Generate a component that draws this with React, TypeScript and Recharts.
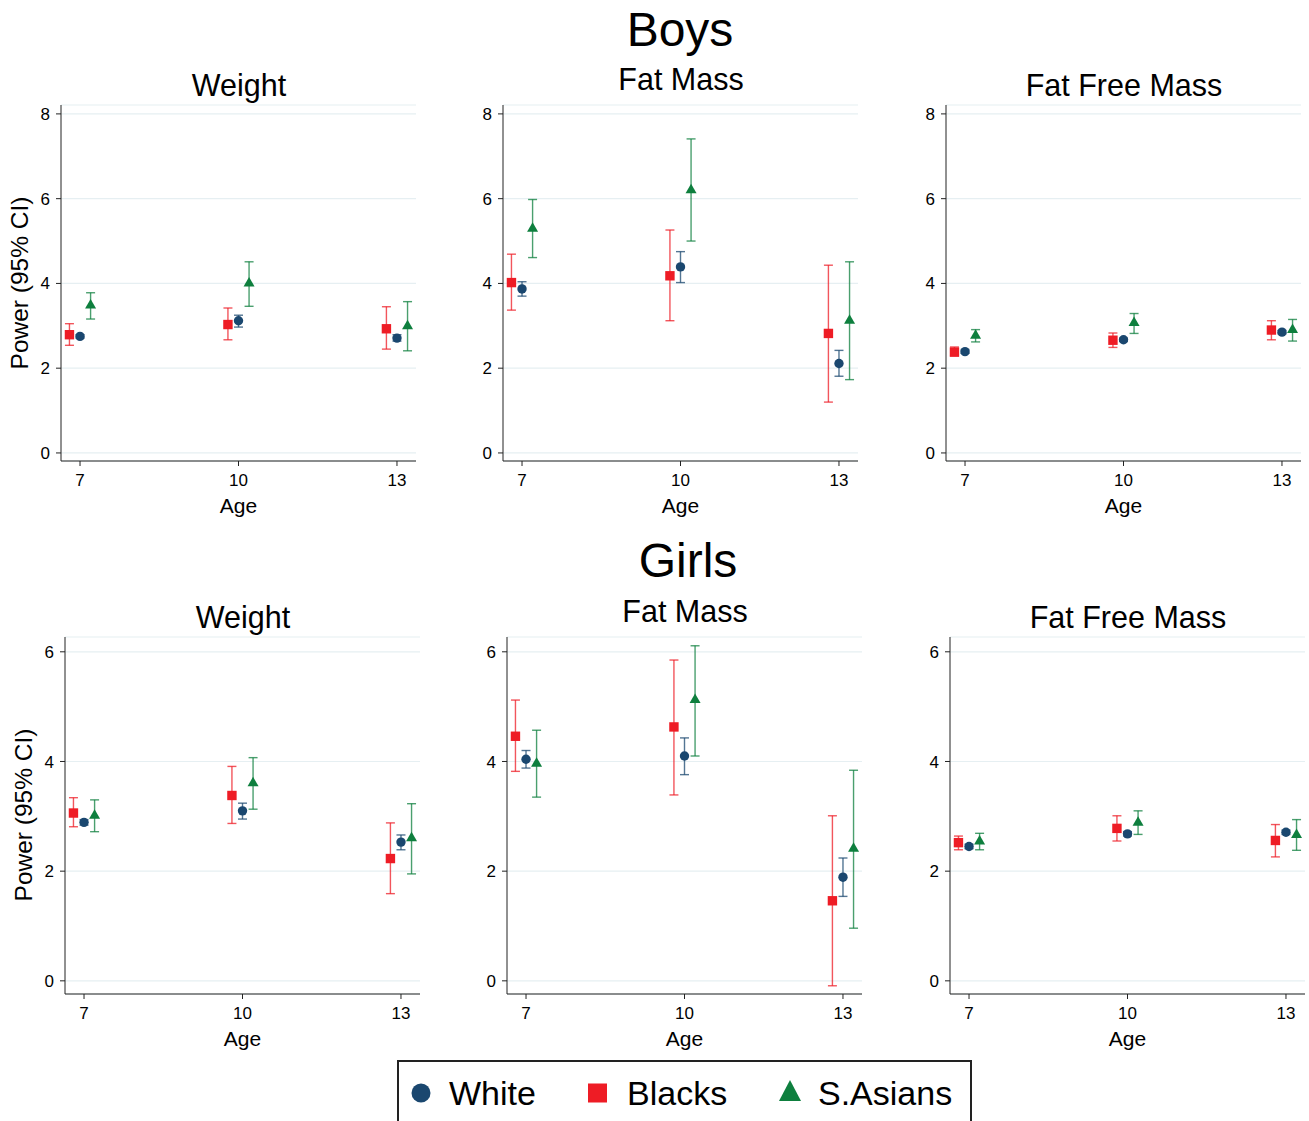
import React from 'react'
import {
  ScatterChart,
  Scatter,
  XAxis,
  YAxis,
  CartesianGrid,
  ErrorBar,
} from 'recharts'

// ages on the x axis
const AGES = [7, 10, 13]
const GROUPS = ['White', 'Blacks', 'S.Asians']

// each row: [estimate, lower 95% CI, upper 95% CI] for ages 7, 10, 13
const BOYS_WEIGHT_WHITE = [[2.75, 2.71, 2.79], [3.12, 2.97, 3.25], [2.71, 2.64, 2.79]]
const BOYS_WEIGHT_BLACKS = [[2.79, 2.54, 3.05], [3.03, 2.67, 3.42], [2.93, 2.45, 3.45]]
const BOYS_WEIGHT_SASIANS = [[3.49, 3.16, 3.78], [4.01, 3.46, 4.51], [3.0, 2.41, 3.57]]

const BOYS_FAT_WHITE = [[3.87, 3.7, 4.04], [4.39, 4.02, 4.75], [2.11, 1.81, 2.42]]
const BOYS_FAT_BLACKS = [[4.02, 3.37, 4.69], [4.18, 3.12, 5.26], [2.82, 1.2, 4.43]]
const BOYS_FAT_SASIANS = [[5.3, 4.61, 5.98], [6.21, 5.0, 7.41], [3.13, 1.73, 4.51]]

const BOYS_FFM_WHITE = [[2.39, 2.35, 2.43], [2.67, 2.63, 2.71], [2.85, 2.81, 2.89]]
const BOYS_FFM_BLACKS = [[2.38, 2.29, 2.5], [2.66, 2.49, 2.83], [2.9, 2.67, 3.12]]
const BOYS_FFM_SASIANS = [[2.78, 2.62, 2.91], [3.08, 2.82, 3.29], [2.91, 2.64, 3.15]]

const GIRLS_WEIGHT_WHITE = [[2.89, 2.84, 2.94], [3.1, 2.95, 3.24], [2.53, 2.39, 2.66]]
const GIRLS_WEIGHT_BLACKS = [[3.06, 2.81, 3.34], [3.38, 2.87, 3.91], [2.23, 1.59, 2.88]]
const GIRLS_WEIGHT_SASIANS = [[3.02, 2.72, 3.3], [3.61, 3.13, 4.07], [2.61, 1.95, 3.23]]

const GIRLS_FAT_WHITE = [[4.04, 3.88, 4.2], [4.1, 3.76, 4.43], [1.89, 1.54, 2.24]]
const GIRLS_FAT_BLACKS = [[4.46, 3.82, 5.12], [4.63, 3.39, 5.85], [1.46, -0.09, 3.01]]
const GIRLS_FAT_SASIANS = [[3.97, 3.35, 4.57], [5.13, 4.1, 6.11], [2.42, 0.96, 3.84]]

const GIRLS_FFM_WHITE = [[2.45, 2.41, 2.49], [2.68, 2.64, 2.72], [2.71, 2.67, 2.75]]
const GIRLS_FFM_BLACKS = [[2.52, 2.39, 2.64], [2.78, 2.55, 3.01], [2.56, 2.26, 2.85]]
const GIRLS_FFM_SASIANS = [[2.55, 2.39, 2.69], [2.89, 2.67, 3.1], [2.67, 2.38, 2.94]]

const BOYS_TICKS = [0, 2, 4, 6, 8]
const GIRLS_TICKS = [0, 2, 4, 6]

// horizontal dodge per group, in years
const DODGE = [0, -0.2, 0.2]
const COLORS = ['#1a476f', '#ee1c25', '#0e7f3e']
const FONT = '"Liberation Sans", Arial, Helvetica, sans-serif'

const PLOT_W = 355
const Y_AXIS_W = 60
const X_AXIS_H = 60
const PAD = 10

const buildSeries = (rows: number[][], g: number) =>
  rows.map(([est, lo, hi], i) => ({
    x: AGES[i] + DODGE[g],
    y: est,
    err: [est - lo, hi - est],
  }))

const CircleMark = (props: any) => (
  <circle cx={props.cx} cy={props.cy} r={4.7} fill={COLORS[0]} />
)
const SquareMark = (props: any) => (
  <rect x={props.cx - 4.7} y={props.cy - 4.7} width={9.4} height={9.4} fill={COLORS[1]} />
)
const TriangleMark = (props: any) => (
  <polygon
    points={`${props.cx},${props.cy - 6} ${props.cx - 5.5},${props.cy + 3.5} ${props.cx + 5.5},${props.cy + 3.5}`}
    fill={COLORS[2]}
  />
)
const MARKS = [CircleMark, SquareMark, TriangleMark]

type PanelProps = {
  left: number
  top: number
  plotH: number
  yDomain: [number, number]
  yTicks: number[]
  series: number[][][]
}

function Panel({ left, top, plotH, yDomain, yTicks, series }: PanelProps) {
  return (
    <div style={{ position: 'absolute', left: left - Y_AXIS_W, top: top - PAD }}>
      <ScatterChart
        width={PLOT_W + Y_AXIS_W + PAD}
        height={plotH + PAD + X_AXIS_H}
        margin={{ top: PAD, right: PAD, bottom: 0, left: 0 }}
      >
        <CartesianGrid vertical={false} stroke="#e6eff2" strokeWidth={1.2} />
        <XAxis
          dataKey="x"
          type="number"
          domain={[6.64, 13.36]}
          ticks={AGES}
          allowDataOverflow
          height={X_AXIS_H}
          tickSize={5}
          tickMargin={8}
          stroke="#222"
          tick={{ fontSize: 17, fill: '#000', fontFamily: FONT }}
          label={{
            value: 'Age',
            position: 'insideBottom',
            offset: 8,
            fontSize: 21,
            fill: '#000',
            fontFamily: FONT,
          }}
        />
        <YAxis
          dataKey="y"
          type="number"
          domain={yDomain}
          ticks={yTicks}
          allowDataOverflow
          width={Y_AXIS_W}
          tickSize={5}
          tickMargin={6}
          stroke="#222"
          tick={{ fontSize: 17, fill: '#000', fontFamily: FONT }}
        />
        {series.map((rows, g) => (
          <Scatter
            key={GROUPS[g]}
            name={GROUPS[g]}
            data={buildSeries(rows, g)}
            shape={MARKS[g]}
            isAnimationActive={false}
          >
            <ErrorBar
              dataKey="err"
              direction="y"
              width={4.5}
              stroke={COLORS[g]}
              strokeOpacity={0.75}
              strokeWidth={1.4}
              isAnimationActive={false}
            />
          </Scatter>
        ))}
      </ScatterChart>
    </div>
  )
}

const text = (
  label: string,
  x: number,
  y: number,
  size: number,
  rotate = false
) => (
  <div
    style={{
      position: 'absolute',
      left: x,
      top: y,
      transform: `translate(-50%, -50%)${rotate ? ' rotate(-90deg)' : ''}`,
      fontSize: size,
      fontFamily: FONT,
      whiteSpace: 'nowrap',
      lineHeight: 1,
      color: '#000',
    }}
  >
    {label}
  </div>
)

export default function App() {
  const boysTop = 105
  const boysH = 356
  const girlsTop = 637
  const girlsH = 357
  const boysDomain: [number, number] = [-0.19, 8.21]
  const girlsDomain: [number, number] = [-0.24, 6.27]

  return (
    <div
      style={{
        position: 'absolute',
        left: 0,
        top: 0,
        width: 1309,
        height: 1121,
        overflow: 'hidden',
        background: '#fff',
        fontFamily: FONT,
      }}
    >
      {text('Boys', 680, 30, 48)}
      {text('Girls', 688, 561, 48)}

      {text('Weight', 239, 85, 30.5)}
      {text('Fat Mass', 681, 79, 30.5)}
      {text('Fat Free Mass', 1124, 85, 30.5)}
      {text('Weight', 243, 617, 30.5)}
      {text('Fat Mass', 685, 611, 30.5)}
      {text('Fat Free Mass', 1128, 617, 30.5)}

      {text('Power (95% CI)', 20, 283, 24.5, true)}
      {text('Power (95% CI)', 24, 815, 24.5, true)}

      <Panel left={61} top={boysTop} plotH={boysH} yDomain={boysDomain} yTicks={BOYS_TICKS}
        series={[BOYS_WEIGHT_WHITE, BOYS_WEIGHT_BLACKS, BOYS_WEIGHT_SASIANS]} />
      <Panel left={503} top={boysTop} plotH={boysH} yDomain={boysDomain} yTicks={BOYS_TICKS}
        series={[BOYS_FAT_WHITE, BOYS_FAT_BLACKS, BOYS_FAT_SASIANS]} />
      <Panel left={946} top={boysTop} plotH={boysH} yDomain={boysDomain} yTicks={BOYS_TICKS}
        series={[BOYS_FFM_WHITE, BOYS_FFM_BLACKS, BOYS_FFM_SASIANS]} />

      <Panel left={65} top={girlsTop} plotH={girlsH} yDomain={girlsDomain} yTicks={GIRLS_TICKS}
        series={[GIRLS_WEIGHT_WHITE, GIRLS_WEIGHT_BLACKS, GIRLS_WEIGHT_SASIANS]} />
      <Panel left={507} top={girlsTop} plotH={girlsH} yDomain={girlsDomain} yTicks={GIRLS_TICKS}
        series={[GIRLS_FAT_WHITE, GIRLS_FAT_BLACKS, GIRLS_FAT_SASIANS]} />
      <Panel left={950} top={girlsTop} plotH={girlsH} yDomain={girlsDomain} yTicks={GIRLS_TICKS}
        series={[GIRLS_FFM_WHITE, GIRLS_FFM_BLACKS, GIRLS_FFM_SASIANS]} />

      {/* legend */}
      <div
        style={{
          position: 'absolute',
          left: 397,
          top: 1060,
          width: 571,
          height: 70,
          border: '2px solid #222',
        }}
      >
        <svg width={571} height={70} style={{ position: 'absolute', left: 0, top: 0 }}>
          <circle cx={22} cy={31} r={9.5} fill={COLORS[0]} />
          <rect x={189} y={21.5} width={19} height={19} fill={COLORS[1]} />
          <polygon points="391,18 380,39 402,39" fill={COLORS[2]} />
        </svg>
        {GROUPS.map((g, i) => (
          <div
            key={g}
            style={{
              position: 'absolute',
              left: [50, 228, 419][i],
              top: 31,
              transform: 'translateY(-50%)',
              fontSize: 34,
              lineHeight: 1,
              fontFamily: FONT,
              color: '#000',
            }}
          >
            {g}
          </div>
        ))}
      </div>
    </div>
  )
}
